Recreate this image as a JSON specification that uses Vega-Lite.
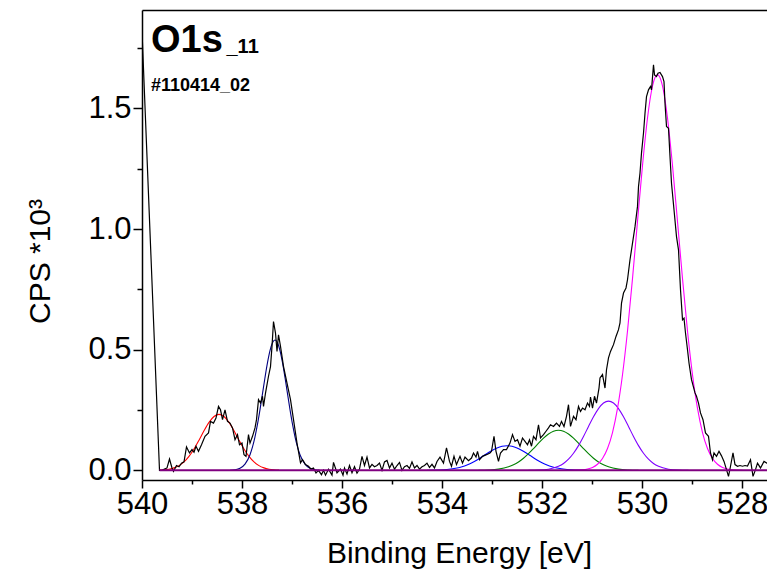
{
  "$schema": "https://vega.github.io/schema/vega-lite/v6.json",
  "width": 625,
  "height": 470,
  "autosize": {"type": "none"},
  "padding": {"left": 142, "top": 10, "right": 0, "bottom": 91},
  "background": "white",
  "config": {
    "view": {"stroke": null},
    "font": "Liberation Sans",
    "axis": {"labelFont": "Liberation Sans", "titleFont": "Liberation Sans", "domainColor": "black", "tickColor": "black", "labelColor": "black", "titleColor": "black", "grid": false, "domainWidth": 1.5, "tickWidth": 1.5, "titleFontWeight": "normal"}
  },
  "datasets": {
    "spec": [
      {"e":540.00,"v":1.82},{"e":539.65,"v":0.0},{"e":539.60,"v":0.0},{"e":539.55,"v":0.005},{"e":539.50,"v":0.01},{"e":539.45,"v":0.047},{"e":539.40,"v":0.01},{"e":539.37,"v":-0.004},{"e":539.31,"v":0.02},{"e":539.26,"v":0.015},{"e":539.21,"v":0.03},{"e":539.16,"v":0.035},{"e":539.11,"v":0.097},{"e":539.05,"v":0.072},{"e":539.00,"v":0.086},{"e":538.96,"v":0.075},{"e":538.92,"v":0.10},{"e":538.87,"v":0.079},{"e":538.81,"v":0.106},{"e":538.74,"v":0.141},{"e":538.67,"v":0.155},{"e":538.63,"v":0.203},{"e":538.57,"v":0.196},{"e":538.52,"v":0.217},{"e":538.47,"v":0.265},{"e":538.43,"v":0.251},{"e":538.39,"v":0.21},{"e":538.34,"v":0.251},{"e":538.29,"v":0.203},{"e":538.24,"v":0.196},{"e":538.19,"v":0.176},{"e":538.14,"v":0.127},{"e":538.09,"v":0.148},{"e":538.05,"v":0.106},{"e":538.00,"v":0.113},{"e":537.96,"v":0.065},{"e":537.92,"v":0.058},{"e":537.87,"v":0.148},{"e":537.84,"v":0.113},{"e":537.79,"v":0.141},{"e":537.74,"v":0.176},{"e":537.71,"v":0.21},{"e":537.67,"v":0.293},{"e":537.63,"v":0.279},{"e":537.59,"v":0.307},{"e":537.57,"v":0.265},{"e":537.53,"v":0.32},{"e":537.47,"v":0.39},{"e":537.43,"v":0.43},{"e":537.40,"v":0.514},{"e":537.37,"v":0.617},{"e":537.33,"v":0.569},{"e":537.30,"v":0.493},{"e":537.27,"v":0.562},{"e":537.23,"v":0.514},{"e":537.17,"v":0.431},{"e":537.10,"v":0.362},{"e":537.03,"v":0.293},{"e":536.97,"v":0.21},{"e":536.90,"v":0.113},{"e":536.83,"v":0.031},{"e":536.79,"v":0.044},{"e":536.73,"v":0.024},{"e":536.67,"v":0.017},{"e":536.62,"v":0.005},{"e":536.57,"v":0.01},{"e":536.52,"v":-0.011},{"e":536.47,"v":0.0},{"e":536.41,"v":-0.018},{"e":536.37,"v":0.0},{"e":536.33,"v":-0.02},{"e":536.27,"v":0.005},{"e":536.20,"v":-0.02},{"e":536.17,"v":0.033},{"e":536.10,"v":-0.01},{"e":536.03,"v":0.005},{"e":535.98,"v":-0.02},{"e":535.95,"v":0.01},{"e":535.90,"v":-0.015},{"e":535.85,"v":0.02},{"e":535.80,"v":-0.01},{"e":535.75,"v":0.015},{"e":535.70,"v":-0.012},{"e":535.65,"v":0.005},{"e":535.60,"v":0.058},{"e":535.55,"v":0.02},{"e":535.50,"v":0.055},{"e":535.45,"v":0.01},{"e":535.40,"v":0.025},{"e":535.35,"v":0.015},{"e":535.30,"v":0.02},{"e":535.25,"v":0.03},{"e":535.20,"v":0.0},{"e":535.15,"v":0.035},{"e":535.10,"v":0.041},{"e":535.05,"v":0.01},{"e":535.00,"v":0.03},{"e":534.95,"v":0.005},{"e":534.90,"v":0.02},{"e":534.85,"v":0.033},{"e":534.80,"v":0.0},{"e":534.75,"v":0.015},{"e":534.70,"v":0.02},{"e":534.65,"v":0.008},{"e":534.60,"v":0.035},{"e":534.55,"v":0.01},{"e":534.50,"v":0.02},{"e":534.45,"v":0.005},{"e":534.40,"v":0.015},{"e":534.35,"v":0.02},{"e":534.30,"v":0.03},{"e":534.25,"v":0.012},{"e":534.20,"v":0.025},{"e":534.15,"v":0.01},{"e":534.10,"v":0.037},{"e":534.04,"v":0.055},{"e":533.97,"v":0.03},{"e":533.91,"v":0.093},{"e":533.85,"v":0.037},{"e":533.81,"v":0.017},{"e":533.76,"v":0.058},{"e":533.71,"v":0.024},{"e":533.64,"v":0.058},{"e":533.59,"v":0.03},{"e":533.54,"v":0.055},{"e":533.47,"v":0.04},{"e":533.41,"v":0.051},{"e":533.37,"v":0.072},{"e":533.32,"v":0.055},{"e":533.29,"v":0.079},{"e":533.25,"v":0.044},{"e":533.19,"v":0.058},{"e":533.11,"v":0.065},{"e":533.04,"v":0.072},{"e":533.01,"v":0.079},{"e":532.96,"v":0.141},{"e":532.92,"v":0.079},{"e":532.87,"v":0.037},{"e":532.83,"v":0.072},{"e":532.77,"v":0.086},{"e":532.71,"v":0.086},{"e":532.64,"v":0.113},{"e":532.59,"v":0.148},{"e":532.54,"v":0.12},{"e":532.49,"v":0.127},{"e":532.44,"v":0.1},{"e":532.39,"v":0.134},{"e":532.34,"v":0.12},{"e":532.29,"v":0.106},{"e":532.25,"v":0.127},{"e":532.21,"v":0.1},{"e":532.17,"v":0.141},{"e":532.12,"v":0.127},{"e":532.07,"v":0.189},{"e":532.03,"v":0.134},{"e":531.97,"v":0.148},{"e":531.92,"v":0.162},{"e":531.87,"v":0.176},{"e":531.83,"v":0.189},{"e":531.77,"v":0.182},{"e":531.74,"v":0.189},{"e":531.71,"v":0.196},{"e":531.65,"v":0.182},{"e":531.61,"v":0.203},{"e":531.56,"v":0.182},{"e":531.51,"v":0.224},{"e":531.47,"v":0.272},{"e":531.43,"v":0.182},{"e":531.37,"v":0.224},{"e":531.32,"v":0.21},{"e":531.27,"v":0.265},{"e":531.23,"v":0.244},{"e":531.19,"v":0.258},{"e":531.14,"v":0.251},{"e":531.09,"v":0.279},{"e":531.05,"v":0.265},{"e":531.03,"v":0.304},{"e":530.99,"v":0.258},{"e":530.95,"v":0.307},{"e":530.91,"v":0.279},{"e":530.86,"v":0.341},{"e":530.84,"v":0.383},{"e":530.79,"v":0.397},{"e":530.74,"v":0.341},{"e":530.71,"v":0.417},{"e":530.67,"v":0.466},{"e":530.63,"v":0.493},{"e":530.57,"v":0.521},{"e":530.52,"v":0.555},{"e":530.47,"v":0.583},{"e":530.44,"v":0.611},{"e":530.41,"v":0.693},{"e":530.37,"v":0.735},{"e":530.32,"v":0.756},{"e":530.29,"v":0.79},{"e":530.24,"v":0.873},{"e":530.21,"v":0.914},{"e":530.14,"v":1.01},{"e":530.09,"v":1.094},{"e":530.07,"v":1.176},{"e":530.04,"v":1.232},{"e":530.01,"v":1.315},{"e":529.97,"v":1.398},{"e":529.94,"v":1.48},{"e":529.91,"v":1.549},{"e":529.87,"v":1.577},{"e":529.83,"v":1.591},{"e":529.81,"v":1.577},{"e":529.77,"v":1.681},{"e":529.75,"v":1.639},{"e":529.71,"v":1.632},{"e":529.68,"v":1.646},{"e":529.64,"v":1.649},{"e":529.59,"v":1.632},{"e":529.56,"v":1.611},{"e":529.54,"v":1.522},{"e":529.51,"v":1.425},{"e":529.47,"v":1.418},{"e":529.44,"v":1.301},{"e":529.41,"v":1.19},{"e":529.36,"v":1.08},{"e":529.31,"v":0.969},{"e":529.27,"v":0.914},{"e":529.23,"v":0.749},{"e":529.19,"v":0.624},{"e":529.16,"v":0.631},{"e":529.13,"v":0.569},{"e":529.09,"v":0.5},{"e":529.06,"v":0.445},{"e":529.01,"v":0.376},{"e":528.94,"v":0.321},{"e":528.91,"v":0.307},{"e":528.87,"v":0.279},{"e":528.83,"v":0.238},{"e":528.78,"v":0.21},{"e":528.73,"v":0.155},{"e":528.67,"v":0.141},{"e":528.63,"v":0.072},{"e":528.59,"v":0.044},{"e":528.56,"v":0.072},{"e":528.51,"v":0.058},{"e":528.46,"v":0.079},{"e":528.41,"v":0.06},{"e":528.36,"v":0.037},{"e":528.31,"v":0.003},{"e":528.27,"v":-0.025},{"e":528.23,"v":0.017},{"e":528.18,"v":0.072},{"e":528.14,"v":0.024},{"e":528.09,"v":0.017},{"e":528.04,"v":0.02},{"e":527.99,"v":0.017},{"e":527.94,"v":0.02},{"e":527.89,"v":0.018},{"e":527.83,"v":0.044},{"e":527.78,"v":-0.025},{"e":527.73,"v":0.003},{"e":527.69,"v":0.03},{"e":527.63,"v":0.01},{"e":527.56,"v":0.037},{"e":527.50,"v":0.03},{"e":527.45,"v":0.02}
    ],
    "fit": [
      {"c":"P1","e":539.66,"v":0.0009},{"c":"P1","e":539.56,"v":0.0022},{"c":"P1","e":539.46,"v":0.0049},{"c":"P1","e":539.36,"v":0.0102},{"c":"P1","e":539.26,"v":0.0196},{"c":"P1","e":539.16,"v":0.035},{"c":"P1","e":539.06,"v":0.0579},{"c":"P1","e":538.96,"v":0.0884},{"c":"P1","e":538.86,"v":0.1251},{"c":"P1","e":538.76,"v":0.164},{"c":"P1","e":538.66,"v":0.1988},{"c":"P1","e":538.56,"v":0.2232},{"c":"P1","e":538.46,"v":0.232},{"c":"P1","e":538.36,"v":0.2232},{"c":"P1","e":538.26,"v":0.1988},{"c":"P1","e":538.16,"v":0.164},{"c":"P1","e":538.06,"v":0.1251},{"c":"P1","e":537.96,"v":0.0884},{"c":"P1","e":537.86,"v":0.0579},{"c":"P1","e":537.76,"v":0.035},{"c":"P1","e":537.66,"v":0.0196},{"c":"P1","e":537.56,"v":0.0102},{"c":"P1","e":537.46,"v":0.0049},{"c":"P1","e":537.36,"v":0.0022},{"c":"P1","e":537.26,"v":0.0009},
      {"c":"P2","e":538.24,"v":0.0006},{"c":"P2","e":538.14,"v":0.0024},{"c":"P2","e":538.04,"v":0.0085},{"c":"P2","e":537.94,"v":0.0256},{"c":"P2","e":537.84,"v":0.0649},{"c":"P2","e":537.79,"v":0.0971},{"c":"P2","e":537.74,"v":0.1392},{"c":"P2","e":537.69,"v":0.1912},{"c":"P2","e":537.64,"v":0.2519},{"c":"P2","e":537.59,"v":0.318},{"c":"P2","e":537.54,"v":0.3848},{"c":"P2","e":537.49,"v":0.4463},{"c":"P2","e":537.44,"v":0.4962},{"c":"P2","e":537.39,"v":0.5287},{"c":"P2","e":537.34,"v":0.54},{"c":"P2","e":537.29,"v":0.5287},{"c":"P2","e":537.24,"v":0.4962},{"c":"P2","e":537.19,"v":0.4463},{"c":"P2","e":537.14,"v":0.3848},{"c":"P2","e":537.09,"v":0.318},{"c":"P2","e":537.04,"v":0.2519},{"c":"P2","e":536.99,"v":0.1912},{"c":"P2","e":536.94,"v":0.1392},{"c":"P2","e":536.89,"v":0.0971},{"c":"P2","e":536.84,"v":0.0649},{"c":"P2","e":536.74,"v":0.0256},{"c":"P2","e":536.64,"v":0.0085},{"c":"P2","e":536.54,"v":0.0024},{"c":"P2","e":536.44,"v":0.0006},
      {"c":"P3","e":534.30,"v":0.0002},{"c":"P3","e":534.10,"v":0.001},{"c":"P3","e":533.90,"v":0.0033},{"c":"P3","e":533.70,"v":0.0094},{"c":"P3","e":533.60,"v":0.0148},{"c":"P3","e":533.50,"v":0.0222},{"c":"P3","e":533.40,"v":0.0318},{"c":"P3","e":533.30,"v":0.0433},{"c":"P3","e":533.20,"v":0.0563},{"c":"P3","e":533.10,"v":0.0697},{"c":"P3","e":533.00,"v":0.0823},{"c":"P3","e":532.90,"v":0.0927},{"c":"P3","e":532.80,"v":0.0996},{"c":"P3","e":532.70,"v":0.102},{"c":"P3","e":532.60,"v":0.0996},{"c":"P3","e":532.50,"v":0.0927},{"c":"P3","e":532.40,"v":0.0823},{"c":"P3","e":532.30,"v":0.0697},{"c":"P3","e":532.20,"v":0.0563},{"c":"P3","e":532.10,"v":0.0433},{"c":"P3","e":532.00,"v":0.0318},{"c":"P3","e":531.90,"v":0.0222},{"c":"P3","e":531.80,"v":0.0148},{"c":"P3","e":531.70,"v":0.0094},{"c":"P3","e":531.50,"v":0.0033},{"c":"P3","e":531.30,"v":0.001},{"c":"P3","e":531.10,"v":0.0002},
      {"c":"P4","e":533.27,"v":0.0003},{"c":"P4","e":533.07,"v":0.0014},{"c":"P4","e":532.87,"v":0.0049},{"c":"P4","e":532.67,"v":0.0145},{"c":"P4","e":532.57,"v":0.023},{"c":"P4","e":532.47,"v":0.0348},{"c":"P4","e":532.37,"v":0.0503},{"c":"P4","e":532.27,"v":0.069},{"c":"P4","e":532.17,"v":0.0902},{"c":"P4","e":532.07,"v":0.1124},{"c":"P4","e":531.97,"v":0.1333},{"c":"P4","e":531.87,"v":0.1506},{"c":"P4","e":531.77,"v":0.162},{"c":"P4","e":531.67,"v":0.166},{"c":"P4","e":531.57,"v":0.162},{"c":"P4","e":531.47,"v":0.1506},{"c":"P4","e":531.37,"v":0.1333},{"c":"P4","e":531.27,"v":0.1124},{"c":"P4","e":531.17,"v":0.0902},{"c":"P4","e":531.07,"v":0.069},{"c":"P4","e":530.97,"v":0.0503},{"c":"P4","e":530.87,"v":0.0348},{"c":"P4","e":530.77,"v":0.023},{"c":"P4","e":530.67,"v":0.0145},{"c":"P4","e":530.47,"v":0.0049},{"c":"P4","e":530.27,"v":0.0014},{"c":"P4","e":530.07,"v":0.0003},
      {"c":"P5","e":532.27,"v":0.0002},{"c":"P5","e":532.07,"v":0.0011},{"c":"P5","e":531.87,"v":0.0047},{"c":"P5","e":531.67,"v":0.0165},{"c":"P5","e":531.57,"v":0.0284},{"c":"P5","e":531.47,"v":0.0461},{"c":"P5","e":531.37,"v":0.0708},{"c":"P5","e":531.27,"v":0.1026},{"c":"P5","e":531.17,"v":0.1405},{"c":"P5","e":531.07,"v":0.1817},{"c":"P5","e":530.97,"v":0.2219},{"c":"P5","e":530.87,"v":0.256},{"c":"P5","e":530.77,"v":0.2789},{"c":"P5","e":530.67,"v":0.287},{"c":"P5","e":530.57,"v":0.2789},{"c":"P5","e":530.47,"v":0.256},{"c":"P5","e":530.37,"v":0.2219},{"c":"P5","e":530.27,"v":0.1817},{"c":"P5","e":530.17,"v":0.1405},{"c":"P5","e":530.07,"v":0.1026},{"c":"P5","e":529.97,"v":0.0708},{"c":"P5","e":529.87,"v":0.0461},{"c":"P5","e":529.77,"v":0.0284},{"c":"P5","e":529.67,"v":0.0165},{"c":"P5","e":529.47,"v":0.0047},{"c":"P5","e":529.27,"v":0.0011},{"c":"P5","e":529.07,"v":0.0002},
      {"c":"P6","e":531.39,"v":0.0004},{"c":"P6","e":531.19,"v":0.0024},{"c":"P6","e":531.09,"v":0.0056},{"c":"P6","e":530.99,"v":0.0123},{"c":"P6","e":530.89,"v":0.0253},{"c":"P6","e":530.79,"v":0.0492},{"c":"P6","e":530.69,"v":0.0904},{"c":"P6","e":530.59,"v":0.1568},{"c":"P6","e":530.49,"v":0.2565},{"c":"P6","e":530.39,"v":0.3962},{"c":"P6","e":530.29,"v":0.5776},{"c":"P6","e":530.19,"v":0.7946},{"c":"P6","e":530.09,"v":1.0314},{"c":"P6","e":529.99,"v":1.2635},{"c":"P6","e":529.89,"v":1.4604},{"c":"P6","e":529.79,"v":1.593},{"c":"P6","e":529.69,"v":1.64},{"c":"P6","e":529.59,"v":1.593},{"c":"P6","e":529.49,"v":1.4604},{"c":"P6","e":529.39,"v":1.2635},{"c":"P6","e":529.29,"v":1.0314},{"c":"P6","e":529.19,"v":0.7946},{"c":"P6","e":529.09,"v":0.5776},{"c":"P6","e":528.99,"v":0.3962},{"c":"P6","e":528.89,"v":0.2565},{"c":"P6","e":528.79,"v":0.1568},{"c":"P6","e":528.69,"v":0.0904},{"c":"P6","e":528.59,"v":0.0492},{"c":"P6","e":528.49,"v":0.0253},{"c":"P6","e":528.39,"v":0.0123},{"c":"P6","e":528.29,"v":0.0056},{"c":"P6","e":528.19,"v":0.0024},{"c":"P6","e":527.99,"v":0.0004}
    ],
    "base": [{"e":539.65,"v":0},{"e":527.2,"v":0}]
  },
  "resolve": {"axis": {"x": "independent"}},
  "layer": [
    {
      "data": {"name": "fit"},
      "mark": {"type": "line", "interpolate": "monotone", "strokeWidth": 1.1, "clip": true},
      "encoding": {
        "x": {"field": "e", "type": "quantitative", "scale": {"domain": [540, 527.5], "nice": false, "zero": false},
          "axis": {"orient": "bottom", "values": [540,539,538,537,536,535,534,533,532,531,530,529,528], "format": "d",
            "labelExpr": "datum.value % 2 == 0 ? datum.label : ''",
            "tickSize": {"condition": {"test": "datum.value % 2 == 0", "value": 8}, "value": 4},
            "labelFontSize": 31, "labelPadding": 1, "labelOverlap": false, "labelFlush": false,
            "title": "Binding Energy [eV]", "titleFontSize": 30, "titleBaseline": "middle", "titleY": 73, "titleX": 317}},
        "y": {"field": "v", "type": "quantitative", "scale": {"domain": [-0.04, 1.908], "nice": false, "zero": false},
          "axis": {"values": [0,0.25,0.5,0.75,1,1.25,1.5,1.75], "format": ".1f",
            "labelExpr": "abs(datum.value*2 - round(datum.value*2)) < 0.01 ? datum.label : ''",
            "tickSize": {"condition": {"test": "abs(datum.value*2 - round(datum.value*2)) < 0.01", "value": 9}, "value": 5},
            "labelFontSize": 31, "labelPadding": 2, "labelOverlap": false, "labelFlush": false,
            "title": "CPS *10³", "titleFontSize": 30, "titleAngle": -90, "titleBaseline": "middle", "titleAlign": "center", "titleX": -102, "titleY": 251}},
        "color": {"field": "c", "type": "nominal", "legend": null,
          "scale": {"domain": ["P1","P2","P3","P4","P5","P6"], "range": ["#FF0000","#000080","#0000FF","#008000","#8000FF","#FF00FF"]}}
      }
    },
    {
      "data": {"name": "spec"},
      "mark": {"type": "line", "color": "black", "strokeWidth": 1.2, "clip": true},
      "encoding": {
        "x": {"field": "e", "type": "quantitative", "axis": null},
        "y": {"field": "v", "type": "quantitative"}
      }
    },
    {
      "data": {"name": "base"},
      "mark": {"type": "line", "color": "#800080", "strokeWidth": 2, "clip": true},
      "encoding": {
        "x": {"field": "e", "type": "quantitative",
          "axis": {"orient": "top", "labels": false, "ticks": false, "title": null, "domainColor": "black", "domainWidth": 1.5}},
        "y": {"field": "v", "type": "quantitative"}
      }
    },
    {
      "data": {"values": [{}]},
      "mark": {"type": "text", "text": "O1s", "font": "Liberation Sans", "fontSize": 38, "fontWeight": "bold", "align": "left", "baseline": "alphabetic", "color": "black"},
      "encoding": {"x": {"datum": 539.82, "type": "quantitative", "axis": null}, "y": {"datum": 1.734, "type": "quantitative"}}
    },
    {
      "data": {"values": [{}]},
      "mark": {"type": "text", "text": "_11", "font": "Liberation Sans", "fontSize": 20, "fontWeight": "bold", "align": "left", "baseline": "alphabetic", "color": "black"},
      "encoding": {"x": {"datum": 538.31, "type": "quantitative", "axis": null}, "y": {"datum": 1.73, "type": "quantitative"}}
    },
    {
      "data": {"values": [{}]},
      "mark": {"type": "text", "text": "#110414_02", "font": "Liberation Sans", "fontSize": 18, "fontWeight": "bold", "align": "left", "baseline": "alphabetic", "color": "black"},
      "encoding": {"x": {"datum": 539.82, "type": "quantitative", "axis": null}, "y": {"datum": 1.573, "type": "quantitative"}}
    }
  ]
}
